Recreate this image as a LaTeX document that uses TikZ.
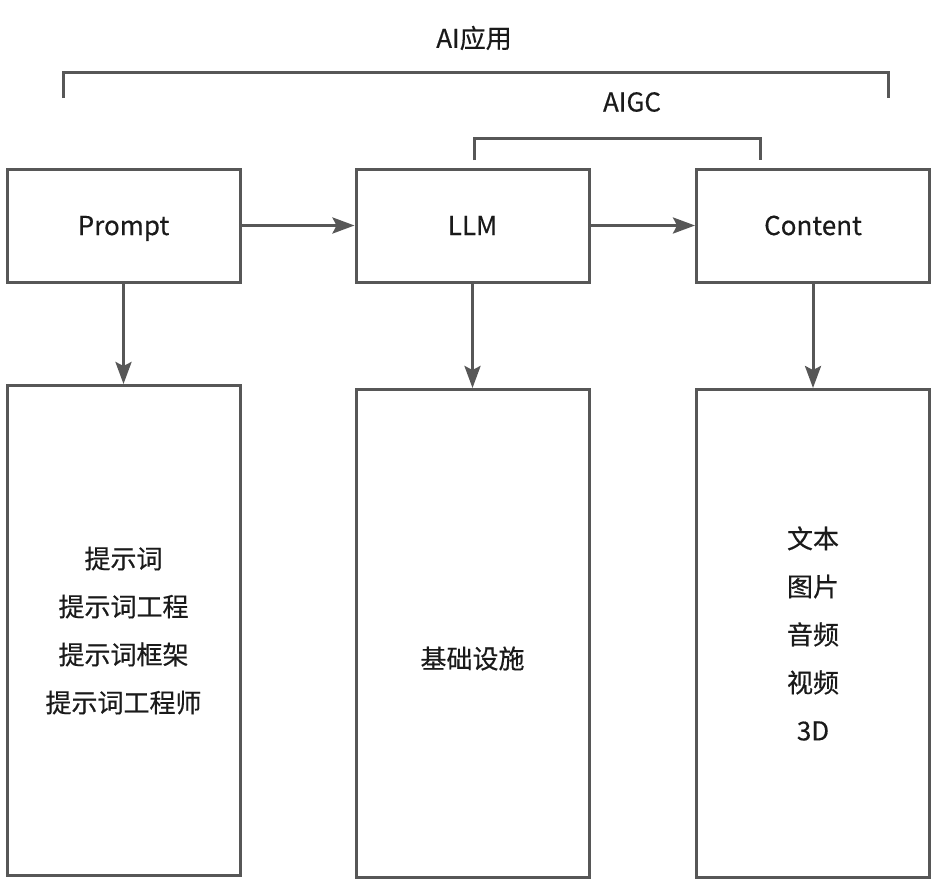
\documentclass[tikz,border=0pt]{standalone}
\usepackage{fontspec}
\setmainfont{Noto Sans CJK SC}[FakeBold=0.4]
\usetikzlibrary{arrows.meta}
\definecolor{lc}{HTML}{575757}
\definecolor{tc}{HTML}{1A1A1A}
\begin{document}
\begin{tikzpicture}[x=1pt,y=-1pt,
  txt/.style={text=tc,font=\fontsize{26}{48}\selectfont,align=center},
  box/.style={draw=lc,line width=3pt,fill=white,txt,inner sep=0pt,minimum width=233pt},
  topbox/.style={box,minimum height=113pt,text height=26pt,text depth=7pt},
  conn/.style={draw=lc,line width=3pt,-{Stealth[length=22pt,width=16pt,inset=4pt]}},
  brk/.style={draw=lc,line width=3pt,line join=miter}]
\useasboundingbox (0,0) rectangle (936,886);
\node[topbox] (p) at (123.5,225.5) {Prompt};
\node[topbox] (l) at (472.5,225.5) {LLM};
\node[topbox] (c) at (813,225.5) {Content};
\node[box,minimum height=490pt] (pb) at (123.5,630.5) {提示词\\提示词工程\\提示词框架\\提示词工程师};
\node[box,minimum height=488pt] (lb) at (472.5,633.5) {};
\node[txt] (lbt) at ([yshift=-25pt]lb.center) {基础设施};
\node[box,minimum height=488pt] (cb) at (813,633.5) {文本\\图片\\音频\\视频\\3D};
\draw[conn] (p.east) -- (l.west);
\draw[conn] (l.east) -- (c.west);
\draw[conn] (p.south) -- (pb.north);
\draw[conn] (l.south) -- (lb.north);
\draw[conn] (c.south) -- (cb.north);
\coordinate (a1) at (63.5,98);
\coordinate (a2) at (888.5,98);
\coordinate (g1) at (474,160);
\coordinate (g2) at (760,160);
\draw[brk] (a1) -- (63.5,72.5) -- (888.5,72.5) -- (a2);
\draw[brk] (g1) -- (474,138) -- (760,138) -- (g2);
\node[txt] (ai) at (474,38) {AI应用};
\node[txt] (aigc) at (632,102) {AIGC};
\end{tikzpicture}
\end{document}
